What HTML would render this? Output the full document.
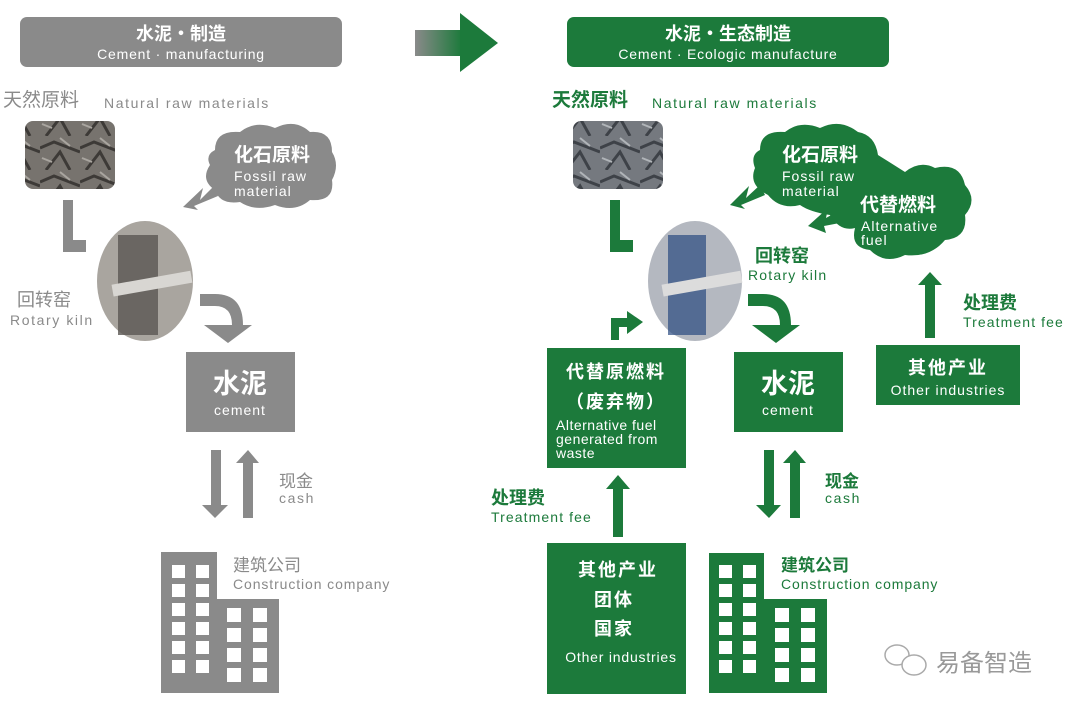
<!DOCTYPE html>
<html><head><meta charset="utf-8"><style>
body{margin:0;background:#fff}
svg{display:block}
text{font-family:"Liberation Sans","Noto Sans CJK SC",sans-serif}
.cn{font-family:"Noto Sans CJK SC",sans-serif}
.en{font-size:14px;letter-spacing:1.6px}
</style></head><body>
<svg width="1080" height="710" viewBox="0 0 1080 710" xmlns="http://www.w3.org/2000/svg">
<defs>
<linearGradient id="ag" x1="0" x2="1"><stop offset="0" stop-color="#8a8a8a"/><stop offset="1" stop-color="#1c7a3b"/></linearGradient>
<pattern id="rock" width="40" height="34" patternUnits="userSpaceOnUse"><rect width="40" height="34" fill="#77736e"/><path d="M0 12 L14 6 L40 16 M6 34 L20 16 L30 34" stroke="#3d3a37" stroke-width="3" fill="none"/><path d="M20 2 L30 10 M2 22 L12 26" stroke="#a9a59f" stroke-width="2"/></pattern>
<pattern id="rockg" width="40" height="34" patternUnits="userSpaceOnUse"><rect width="40" height="34" fill="#75797f"/><path d="M0 12 L14 6 L40 16 M6 34 L20 16 L30 34" stroke="#3e4248" stroke-width="3" fill="none"/><path d="M20 2 L30 10 M2 22 L12 26" stroke="#b0b4b8" stroke-width="2"/></pattern>
</defs>
<!-- titles -->
<rect x="20" y="17" width="322" height="50" rx="7" fill="#8a8a8a"/>
<text x="181" y="40" fill="#fff" font-size="18" text-anchor="middle" class="cn" font-weight="bold">水泥·制造</text>
<text x="181" y="59" fill="#fff" font-size="14" text-anchor="middle" letter-spacing="0.8">Cement · manufacturing</text>
<rect x="567" y="17" width="322" height="50" rx="7" fill="#1c7a3b"/>
<text x="728" y="40" fill="#fff" font-size="18" text-anchor="middle" class="cn" font-weight="bold">水泥·生态制造</text>
<text x="728" y="59" fill="#fff" font-size="14" text-anchor="middle" letter-spacing="0.8">Cement · Ecologic manufacture</text>
<rect x="415" y="30" width="47" height="26" fill="url(#ag)"/>
<polygon points="460,13 498,43 460,72" fill="#1c7a3b"/>

<!-- LEFT -->
<text x="3" y="106" fill="#8a8a8a" font-size="19" class="cn">天然原料</text>
<text x="104" y="108" fill="#8a8a8a" class="en">Natural raw materials</text>
<rect x="25" y="121" width="90" height="68" rx="8" fill="url(#rock)"/>
<path d="M215 150 Q215 130 240 132 Q255 120 275 128 Q295 118 310 132 Q332 130 332 152 Q340 165 332 180 Q335 202 310 200 Q295 213 275 205 Q255 212 240 202 Q220 205 215 190 Q200 180 210 165 Q205 155 215 150Z" fill="#8a8a8a"/>
<polygon points="215,185 200,200 203,188 183,207 198,210 194,206 218,196" fill="#8a8a8a"/>
<text x="234" y="161" fill="#fff" font-size="19" class="cn" font-weight="bold">化石原料</text>
<text x="234" y="181" fill="#fff" font-size="14" letter-spacing="1">Fossil raw</text>
<text x="234" y="196" fill="#fff" font-size="14" letter-spacing="1">material</text>
<path d="M63 200 H73 V240 H86 V252 H63Z" fill="#8a8a8a"/>
<ellipse cx="145" cy="281" rx="48" ry="60" fill="#a9a59f"/>
<rect x="118" y="235" width="40" height="100" fill="#5a5652" opacity="0.8"/>
<rect x="112" y="278" width="80" height="12" fill="#d8d6d2" transform="rotate(-10 150 284)"/>
<text x="17" y="306" fill="#8a8a8a" font-size="18" class="cn">回转窑</text>
<text x="10" y="325" fill="#8a8a8a" class="en">Rotary kiln</text>
<path d="M200 294 H215 Q243 294 243 325 H252 L228 343 L204 325 H232 Q232 306 215 306 H200Z" fill="#8a8a8a"/>
<rect x="186" y="352" width="109" height="80" fill="#8a8a8a"/>
<text x="240" y="393" fill="#fff" font-size="27" text-anchor="middle" class="cn" font-weight="bold">水泥</text>
<text x="240" y="415" fill="#fff" font-size="14" text-anchor="middle" letter-spacing="1">cement</text>
<polygon points="211,450 221,450 221,505 228,505 215,518 202,505 211,505" fill="#8a8a8a"/>
<polygon points="243,518 253,518 253,463 259,463 248,450 236,463 243,463" fill="#8a8a8a"/>
<text x="279" y="487" fill="#8a8a8a" font-size="17" class="cn">现金</text>
<text x="279" y="503" fill="#8a8a8a" class="en">cash</text>
<path d="M161 552 H217 V599 H279 V693 H161Z" fill="#8a8a8a"/>
<g fill="#fff">
<rect x="172" y="565" width="13" height="13"/><rect x="196" y="565" width="13" height="13"/>
<rect x="172" y="584" width="13" height="13"/><rect x="196" y="584" width="13" height="13"/>
<rect x="172" y="603" width="13" height="13"/><rect x="196" y="603" width="13" height="13"/>
<rect x="172" y="622" width="13" height="13"/><rect x="196" y="622" width="13" height="13"/>
<rect x="172" y="641" width="13" height="13"/><rect x="196" y="641" width="13" height="13"/>
<rect x="172" y="660" width="13" height="13"/><rect x="196" y="660" width="13" height="13"/>
<rect x="227" y="608" width="14" height="14"/><rect x="253" y="608" width="14" height="14"/>
<rect x="227" y="628" width="14" height="14"/><rect x="253" y="628" width="14" height="14"/>
<rect x="227" y="648" width="14" height="14"/><rect x="253" y="648" width="14" height="14"/>
<rect x="227" y="668" width="14" height="14"/><rect x="253" y="668" width="14" height="14"/>
</g>
<text x="233" y="571" fill="#8a8a8a" font-size="17" class="cn">建筑公司</text>
<text x="233" y="589" fill="#8a8a8a" font-size="14" letter-spacing="0.9">Construction company</text>

<!-- RIGHT -->
<text x="552" y="106" fill="#1c7a3b" font-size="19" class="cn" font-weight="bold">天然原料</text>
<text x="652" y="108" fill="#1c7a3b" class="en">Natural raw materials</text>
<rect x="573" y="121" width="90" height="68" rx="8" fill="url(#rockg)"/>
<path d="M760 150 Q760 130 785 132 Q800 120 820 128 Q840 118 858 132 Q875 135 878 155 L905 172 Q920 160 935 168 Q960 162 965 185 Q978 200 965 215 Q968 238 945 240 Q930 258 905 255 Q885 265 870 250 Q850 248 855 228 Q840 232 830 215 Q810 212 800 205 Q780 210 768 195 Q748 185 755 168 Q750 155 760 150Z" fill="#1c7a3b"/>
<polygon points="760,185 746,198 749,186 730,205 745,209 741,205 765,195" fill="#1c7a3b"/>
<polygon points="840,210 826,218 828,208 808,226 826,233 824,226 845,222" fill="#1c7a3b"/>
<text x="782" y="161" fill="#fff" font-size="19" class="cn" font-weight="bold">化石原料</text>
<text x="782" y="181" fill="#fff" font-size="14" letter-spacing="1">Fossil raw</text>
<text x="782" y="196" fill="#fff" font-size="14" letter-spacing="1">material</text>
<text x="860" y="211" fill="#fff" font-size="19" class="cn" font-weight="bold">代替燃料</text>
<text x="861" y="231" fill="#fff" font-size="14" letter-spacing="1">Alternative</text>
<text x="861" y="245" fill="#fff" font-size="14" letter-spacing="1">fuel</text>
<path d="M610 200 H620 V240 H633 V252 H610Z" fill="#1c7a3b"/>
<ellipse cx="695" cy="281" rx="47" ry="60" fill="#b4b8c0"/>
<rect x="668" y="235" width="38" height="100" fill="#2a4a80" opacity="0.7"/>
<rect x="662" y="278" width="80" height="12" fill="#dcdcdc" transform="rotate(-10 700 284)"/>
<text x="755" y="262" fill="#1c7a3b" font-size="18" class="cn" font-weight="bold">回转窑</text>
<text x="748" y="280" fill="#1c7a3b" font-size="14" letter-spacing="1.2">Rotary kiln</text>
<path d="M748 294 H763 Q791 294 791 325 H800 L776 343 L752 325 H780 Q780 306 763 306 H748Z" fill="#1c7a3b"/>
<path d="M611 340 V318 H627 V311 L643 322 L627 334 V327 H619 V340Z" fill="#1c7a3b"/>
<rect x="547" y="348" width="139" height="120" fill="#1c7a3b"/>
<text x="616" y="378" fill="#fff" font-size="18" text-anchor="middle" class="cn" font-weight="bold" letter-spacing="2">代替原燃料</text>
<text x="616" y="408" fill="#fff" font-size="18" text-anchor="middle" class="cn" font-weight="bold" letter-spacing="2">（废弃物）</text>
<text x="556" y="430" fill="#fff" font-size="14" letter-spacing="0.5">Alternative fuel</text>
<text x="556" y="444" fill="#fff" font-size="14" letter-spacing="0.5">generated from</text>
<text x="556" y="458" fill="#fff" font-size="14" letter-spacing="0.5">waste</text>
<rect x="734" y="352" width="109" height="80" fill="#1c7a3b"/>
<text x="788" y="393" fill="#fff" font-size="27" text-anchor="middle" class="cn" font-weight="bold">水泥</text>
<text x="788" y="415" fill="#fff" font-size="14" text-anchor="middle" letter-spacing="1">cement</text>
<rect x="876" y="345" width="144" height="60" fill="#1c7a3b"/>
<text x="948" y="374" fill="#fff" font-size="18" text-anchor="middle" class="cn" font-weight="bold" letter-spacing="2">其他产业</text>
<text x="948" y="395" fill="#fff" font-size="14" text-anchor="middle" letter-spacing="1">Other industries</text>
<polygon points="925,338 935,338 935,285 942,285 930,272 918,285 925,285" fill="#1c7a3b"/>
<text x="963" y="309" fill="#1c7a3b" font-size="18" class="cn" font-weight="bold">处理费</text>
<text x="963" y="327" fill="#1c7a3b" font-size="14" letter-spacing="1.1">Treatment fee</text>
<polygon points="613,537 623,537 623,489 630,489 618,475 606,489 613,489" fill="#1c7a3b"/>
<text x="491" y="504" fill="#1c7a3b" font-size="18" class="cn" font-weight="bold">处理费</text>
<text x="491" y="522" fill="#1c7a3b" font-size="14" letter-spacing="1.1">Treatment fee</text>
<rect x="547" y="543" width="139" height="151" fill="#1c7a3b"/>
<text x="618" y="576" fill="#fff" font-size="18" text-anchor="middle" class="cn" font-weight="bold" letter-spacing="2">其他产业</text>
<text x="614" y="606" fill="#fff" font-size="18" text-anchor="middle" class="cn" font-weight="bold" letter-spacing="2">团体</text>
<text x="614" y="635" fill="#fff" font-size="18" text-anchor="middle" class="cn" font-weight="bold" letter-spacing="2">国家</text>
<text x="621" y="662" fill="#fff" font-size="14" text-anchor="middle" letter-spacing="0.8">Other industries</text>
<polygon points="764,450 774,450 774,505 781,505 769,518 756,505 764,505" fill="#1c7a3b"/>
<polygon points="790,518 800,518 800,463 806,463 795,450 783,463 790,463" fill="#1c7a3b"/>
<text x="825" y="487" fill="#1c7a3b" font-size="17" class="cn" font-weight="bold">现金</text>
<text x="825" y="503" fill="#1c7a3b" class="en">cash</text>
<path d="M709 553 H764 V599 H827 V693 H709Z" fill="#1c7a3b"/>
<g fill="#fff">
<rect x="719" y="565" width="13" height="13"/><rect x="743" y="565" width="13" height="13"/>
<rect x="719" y="584" width="13" height="13"/><rect x="743" y="584" width="13" height="13"/>
<rect x="719" y="603" width="13" height="13"/><rect x="743" y="603" width="13" height="13"/>
<rect x="719" y="622" width="13" height="13"/><rect x="743" y="622" width="13" height="13"/>
<rect x="719" y="641" width="13" height="13"/><rect x="743" y="641" width="13" height="13"/>
<rect x="719" y="660" width="13" height="13"/><rect x="743" y="660" width="13" height="13"/>
<rect x="775" y="608" width="14" height="14"/><rect x="801" y="608" width="14" height="14"/>
<rect x="775" y="628" width="14" height="14"/><rect x="801" y="628" width="14" height="14"/>
<rect x="775" y="648" width="14" height="14"/><rect x="801" y="648" width="14" height="14"/>
<rect x="775" y="668" width="14" height="14"/><rect x="801" y="668" width="14" height="14"/>
</g>
<text x="781" y="571" fill="#1c7a3b" font-size="17" class="cn" font-weight="bold">建筑公司</text>
<text x="781" y="589" fill="#1c7a3b" font-size="14" letter-spacing="0.9">Construction company</text>
<!-- watermark -->
<ellipse cx="897" cy="655" rx="12" ry="10" fill="none" stroke="#aaa" stroke-width="1.5"/>
<ellipse cx="914" cy="665" rx="12" ry="10" fill="#fff" stroke="#aaa" stroke-width="1.5"/>
<text x="936" y="671" fill="#999" font-size="24" class="cn">易备智造</text>
</svg>
</body></html>
